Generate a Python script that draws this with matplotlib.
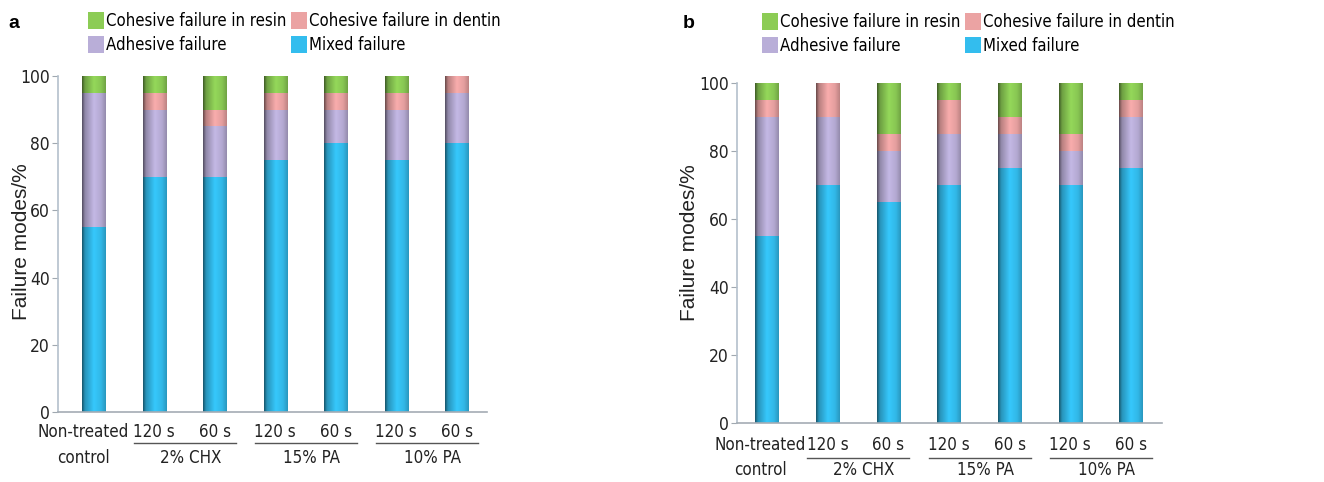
import numpy as np
import matplotlib
matplotlib.use("Agg")
import matplotlib.pyplot as plt
import matplotlib.colors as mcolors
from matplotlib import font_manager as fm

# data (percent of failures)
groups = ["Non-treated\ncontrol", "120 s", "60 s", "120 s", "60 s", "120 s", "60 s"]
treatments = ["2% CHX", "15% PA", "10% PA"]

mixed_a = [55, 70, 70, 75, 80, 75, 80]
adhesive_a = [40, 20, 15, 15, 10, 15, 15]
dentin_a = [0, 5, 5, 5, 5, 5, 5]
resin_a = [5, 5, 10, 5, 5, 5, 0]

mixed_b = [55, 70, 65, 70, 75, 70, 75]
adhesive_b = [35, 20, 15, 15, 10, 10, 15]
dentin_b = [5, 10, 5, 10, 5, 5, 5]
resin_b = [5, 0, 15, 5, 10, 15, 5]

c_mixed = '#33bdee'
c_adh = '#b9aed8'
c_dent = '#eba3a3'
c_resin = '#8ccc55'

# the original uses a narrow sans; look for one, otherwise use a regular one smaller
narrow = None
for key in ['LiberationSansNarrow-Regular', 'DejaVuSansCondensed.', 'RobotoCondensed-Regular',
            'OpenSans_Condensed-Regular', 'OpenSansCondensed', 'Narrow', 'Condensed']:
    for f in fm.fontManager.ttflist:
        fn = f.fname.split('/')[-1]
        if key in fn and 'Bold' not in fn and 'Italic' not in fn and 'Oblique' not in fn:
            narrow = f.fname
            break
    if narrow:
        break

if narrow:
    def fp(size):
        return fm.FontProperties(fname=narrow, size=size)
else:
    def fp(size):
        return fm.FontProperties(family=['Liberation Sans', 'DejaVu Sans'], size=size - 1.5)

plt.rcParams['font.family'] = ['Liberation Sans', 'DejaVu Sans']


def shade(ax, bars, color):
    # cylinder look: dark left edge, bright middle
    rgb = np.array(mcolors.to_rgb(color))
    t = np.linspace(0, 1, 64)
    f = np.interp(t, [0, 0.12, 0.5, 0.8, 1], [0.45, 0.78, 1.06, 0.97, 0.8])
    img = np.clip(rgb[None, :] * f[:, None], 0, 1)[None, :, :]
    for p in bars:
        h = p.get_height()
        if h <= 0:
            continue
        x0 = p.get_x()
        y0 = p.get_y()
        ax.imshow(img, extent=(x0, x0 + p.get_width(), y0, y0 + h),
                  aspect='auto', zorder=2, interpolation='bilinear')


def panel(ax, mixed, adh, dent, resin, xl, ylab_y, line_y, row2_y, ctrl_dx, ylab_pos):
    x = np.arange(len(groups))
    w = 0.38
    mixed = np.array(mixed)
    adh = np.array(adh)
    dent = np.array(dent)
    resin = np.array(resin)
    b1 = ax.bar(x, mixed, w, color=c_mixed, zorder=1, label='Mixed failure')
    b2 = ax.bar(x, adh, w, bottom=mixed, color=c_adh, zorder=1, label='Adhesive failure')
    b3 = ax.bar(x, dent, w, bottom=mixed + adh, color=c_dent, zorder=1,
                label='Cohesive failure in dentin')
    b4 = ax.bar(x, resin, w, bottom=mixed + adh + dent, color=c_resin, zorder=1,
                label='Cohesive failure in resin')
    for b, c in [(b1, c_mixed), (b2, c_adh), (b3, c_dent), (b4, c_resin)]:
        shade(ax, b, c)

    ax.set_xlim(xl)
    ax.set_ylim(0, 100)
    ax.set_yticks([0, 20, 40, 60, 80, 100])
    ax.set_xticks([])
    for s in ['top', 'right']:
        ax.spines[s].set_visible(False)
    ax.spines['left'].set_color('#b4c0cc')
    ax.spines['bottom'].set_color('#a4acb4')
    ax.spines['left'].set_linewidth(1.2)
    ax.spines['bottom'].set_linewidth(1.2)
    ax.tick_params(axis='y', direction='out', length=4, color='#a0a8b0',
                   labelcolor='#222222', pad=2)
    for lab in ax.get_yticklabels():
        lab.set_fontproperties(fp(12.5))
    ax.set_ylabel('Failure modes/%', fontsize=15, color='#222222')
    ax.yaxis.set_label_coords(*ylab_pos)

    tr = ax.get_xaxis_transform()
    # control label
    ax.text(x[0] + ctrl_dx, ylab_y, "Non-treated", transform=tr, ha='center', va='center',
            fontproperties=fp(12.2), color='#222222', clip_on=False)
    ax.text(x[0] + ctrl_dx, row2_y, "control", transform=tr, ha='center', va='center',
            fontproperties=fp(12.2), color='#222222', clip_on=False)
    for i in range(1, len(groups)):
        ax.text(x[i], ylab_y, groups[i], transform=tr, ha='center', va='center',
                fontproperties=fp(12.2), color='#222222', clip_on=False)
    for k, name in enumerate(treatments):
        i0 = 1 + 2 * k
        i1 = i0 + 1
        ax.plot([x[i0] - 0.33, x[i1] + 0.35], [line_y, line_y], transform=tr,
                color='#555555', lw=1.0, clip_on=False)
        ax.text((x[i0] + x[i1]) / 2 + 0.1, row2_y, name, transform=tr, ha='center',
                va='center', fontproperties=fp(12.2), color='#222222', clip_on=False)
    return [b4, b2, b3, b1]


fig = plt.figure(figsize=(13.24, 4.82), dpi=100)
ax1 = fig.add_axes([0.0438, 0.1452, 0.3240, 0.6971])
ax2 = fig.add_axes([0.5566, 0.1224, 0.3210, 0.7054])

h1 = panel(ax1, mixed_a, adhesive_a, dentin_a, resin_a, (-0.587, 6.5), -0.06, -0.092, -0.137,
           -0.17, (-0.062, 0.506))
h2 = panel(ax2, mixed_b, adhesive_b, dentin_b, resin_b, (-0.49, 6.51), -0.065, -0.103, -0.138,
           -0.1, (-0.09, 0.53))

for ax, h, pos in [(ax1, h1, (0.0665, 0.975)), (ax2, h2, (0.5755, 0.973))]:
    ax.legend(h, [b.get_label() for b in h], ncol=2, loc='upper left',
              bbox_to_anchor=pos, bbox_transform=fig.transFigure, frameon=False,
              prop=fp(12), handlelength=0.95, handleheight=1.15, handletextpad=0.15,
              columnspacing=0.25, labelspacing=0.35, borderpad=0, borderaxespad=0)

fig.text(8 / 1324, 1 - 28 / 482, 'a', fontsize=14, fontweight='bold', va='baseline')
fig.text(683 / 1324, 1 - 28 / 482, 'b', fontsize=14, fontweight='bold', va='baseline')

fig.savefig('out.png', dpi=100)
